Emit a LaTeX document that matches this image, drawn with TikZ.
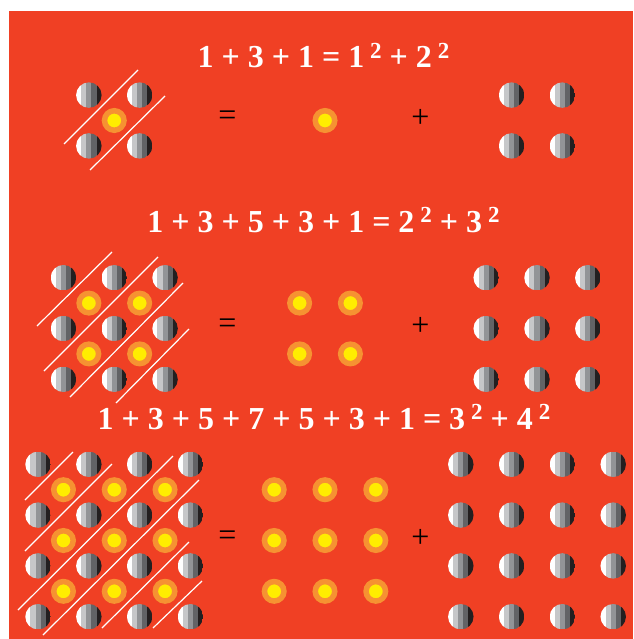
\documentclass[tikz,border=0pt]{standalone}
\usepackage{fontspec}
\setmainfont{Liberation Serif}
\usetikzlibrary{positioning,calc}
\definecolor{bgred}{RGB}{240,64,36}
\definecolor{ringorange}{RGB}{246,146,50}
\definecolor{sunyellow}{RGB}{255,237,0}
\definecolor{stripeA}{RGB}{198,199,201}
\definecolor{stripeB}{RGB}{146,148,151}
\definecolor{stripeC}{RGB}{98,99,102}
\definecolor{stripeD}{RGB}{35,31,32}
\newcommand{\sqr}[1]{\hspace{6pt}\raisebox{9.5pt}{\fontsize{23}{23}\selectfont #1}}

\begin{document}
\begin{tikzpicture}[x=1pt, y=-1pt]
  \tikzstyle{grayball}=[circle, minimum size=25.5pt, inner sep=0pt, path picture={
    \foreach \c [count=\k from 0] in {white,stripeA,stripeB,stripeC,stripeD}
      \fill[\c] ($(path picture bounding box.south west)!\k*0.2!(path picture bounding box.south east)$)
        rectangle ($(path picture bounding box.north west)!\k*0.2+0.2!(path picture bounding box.north east)$);
  }]
  \tikzstyle{sunball}=[circle, minimum size=19.5pt, inner sep=0pt, fill=sunyellow, draw=ringorange, line width=5.5pt]
  \tikzstyle{sign}=[font=\fontsize{32}{32}\selectfont, text=black, inner sep=0pt]
  \tikzstyle{title}=[font=\fontsize{32}{32}\selectfont\bfseries, text=white, anchor=base, inner sep=0pt]
  \tikzstyle{cut}=[white, line width=1.2pt]
  \useasboundingbox (0,0) rectangle (633,639);
  \fill[bgred] (9,11) rectangle (633,639);
  % sums written on top of each row
  \node[title] (sum1) at (323.5,68) {1 + 3 + 1 = 1\sqr{2} + 2\sqr{2}};
  \node[title] (sum2) at (323.5,232) {1 + 3 + 5 + 3 + 1 = 2\sqr{2} + 3\sqr{2}};
  \node[title] (sum3) at (324,429) {1 + 3 + 5 + 7 + 5 + 3 + 1 = 3\sqr{2} + 4\sqr{2}};
  % diagonal cuts
  \draw[cut] (64,144) -- (138,70);
  \draw[cut] (90,170) -- (165,96);
  \draw[cut] (37,326) -- (112,252);
  \draw[cut] (44,371) -- (158,257);
  \draw[cut] (70,397) -- (183,283);
  \draw[cut] (116,403) -- (189,329);
  \draw[cut] (25,500) -- (73,452);
  \draw[cut] (25,551) -- (112,464);
  \draw[cut] (18,610) -- (173,456);
  \draw[cut] (43,635) -- (199,480);
  \draw[cut] (102,628) -- (189,542);
  \draw[cut] (153,628) -- (202,581);
  % balls
  \foreach \n/\cy in {2/120.5,3/328.5,4/540.5}{
    \pgfmathtruncatemacro\m{\n-1}
    \foreach \i in {1,...,\n}
      \foreach \j in {1,...,\n}{
        \node[grayball] (L\n-\i-\j) at ({114.25+(\i-(\n+1)/2)*50.8},{\cy+(\j-(\n+1)/2)*50.8}) {};
        \node[grayball] (R\n-\i-\j) at ({537+(\i-(\n+1)/2)*50.8},{\cy+(\j-(\n+1)/2)*50.8}) {};
      }
    \foreach \i in {1,...,\m}
      \foreach \j in {1,...,\m}{
        \node[sunball] (Y\n-\i-\j) at ({114.25+(\i-\n/2)*50.8},{\cy+(\j-\n/2)*50.8}) {};
        \node[sunball] (M\n-\i-\j) at ({325+(\i-\n/2)*50.8},{\cy+(\j-\n/2)*50.8}) {};
      }
    \node[sign] (eq\n) at (227.5,\cy-2) {=};
    \node[sign] (pl\n) at (420.5,\cy-2.5) {+};
  }
\end{tikzpicture}
\end{document}
